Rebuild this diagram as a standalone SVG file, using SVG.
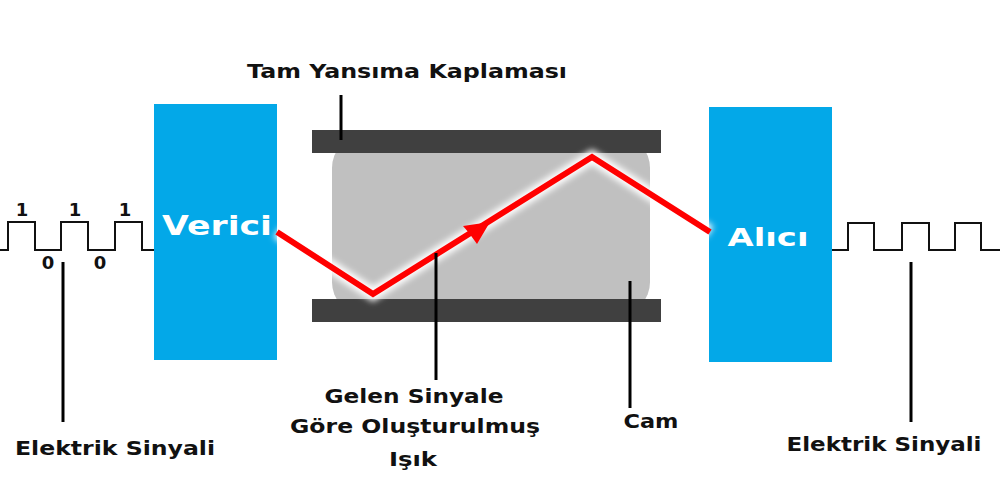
<svg xmlns="http://www.w3.org/2000/svg" width="1000" height="500" viewBox="0 0 1000 500">
<style>
.lbl{font-family:"DejaVu Sans","Liberation Sans",sans-serif;font-weight:bold;font-size:19px;fill:#111;text-anchor:middle}
.bit{font-family:"DejaVu Sans","Liberation Sans",sans-serif;font-weight:bold;font-size:18px;fill:#111;text-anchor:middle}
.box{fill:#03a8e8}
.boxt{font-family:"DejaVu Sans","Liberation Sans",sans-serif;font-weight:bold;fill:#fff;text-anchor:middle}
.plate{fill:#404040}
.ptr{stroke:#000;stroke-width:3;fill:none}
.wave{stroke:#111;stroke-width:2;fill:none}
</style>
<defs>
<filter id="glow" x="-20%" y="-40%" width="140%" height="180%">
<feGaussianBlur stdDeviation="3"/>
</filter>
</defs>
<rect width="1000" height="500" fill="#fff"/>
<g id="glass">
<rect x="332" y="136" width="318" height="178" rx="30" ry="32" fill="#c0c0c0"/>
</g>
<g id="plates">
<rect class="plate" x="312" y="130" width="349" height="23"/>
<rect class="plate" x="312" y="299" width="349" height="23"/>
</g>
<g id="transmitter">
<rect class="box" x="154" y="104" width="123" height="256"/>
<text class="boxt" x="217" y="235" font-size="27" textLength="110" lengthAdjust="spacingAndGlyphs">Verici</text>
</g>
<g id="receiver">
<rect class="box" x="709" y="107" width="123" height="255"/>
<text class="boxt" x="768" y="246" font-size="25" textLength="81" lengthAdjust="spacingAndGlyphs">Alıcı</text>
</g>
<g id="signal-in">
<path class="wave" d="M0,250 H8 V222 H35 V250 H61 V222 H88 V250 H115 V222 H142 V250 H154"/>
<text class="bit" x="22" y="216">1</text>
<text class="bit" x="75" y="216">1</text>
<text class="bit" x="125" y="216">1</text>
<text class="bit" x="48" y="269">0</text>
<text class="bit" x="100" y="269">0</text>
</g>
<g id="signal-out">
<path class="wave" d="M832,250 H848 V223 H874 V250 H902 V223 H929 V250 H955 V223 H981 V250 H1000"/>
</g>
<g id="connectors">
<path d="M277,232 L373,294 L592,157 L710,232" stroke="#fff" stroke-width="13" fill="none" stroke-linejoin="miter" filter="url(#glow)"/>
<path d="M277,232 L373,294 L592,157 L710,232" stroke="#ff0000" stroke-width="6" fill="none" stroke-linejoin="miter"/>
<polygon points="490,222 463,226 469,233 477,244" fill="#ff0000"/>
<line class="ptr" x1="341" y1="95" x2="341" y2="140"/>
<line class="ptr" x1="63" y1="262" x2="63" y2="422"/>
<line class="ptr" x1="436" y1="253" x2="436" y2="380"/>
<line class="ptr" x1="630" y1="281" x2="630" y2="408"/>
<line class="ptr" x1="911" y1="262" x2="911" y2="422"/>
</g>
<g id="labels">
<text class="lbl" x="407" y="78" textLength="320" lengthAdjust="spacingAndGlyphs">Tam Yansıma Kaplaması</text>
<text class="lbl" x="115" y="455" textLength="200" lengthAdjust="spacingAndGlyphs">Elektrik Sinyali</text>
<text class="lbl" x="884" y="451" textLength="195" lengthAdjust="spacingAndGlyphs">Elektrik Sinyali</text>
<text class="lbl" x="414" y="403" textLength="179" lengthAdjust="spacingAndGlyphs">Gelen Sinyale</text>
<text class="lbl" x="415" y="433" textLength="250" lengthAdjust="spacingAndGlyphs">Göre Oluşturulmuş</text>
<text class="lbl" x="413" y="466" textLength="48" lengthAdjust="spacingAndGlyphs">Işık</text>
<text class="lbl" x="651" y="428" textLength="55" lengthAdjust="spacingAndGlyphs">Cam</text>
</g>
</svg>
